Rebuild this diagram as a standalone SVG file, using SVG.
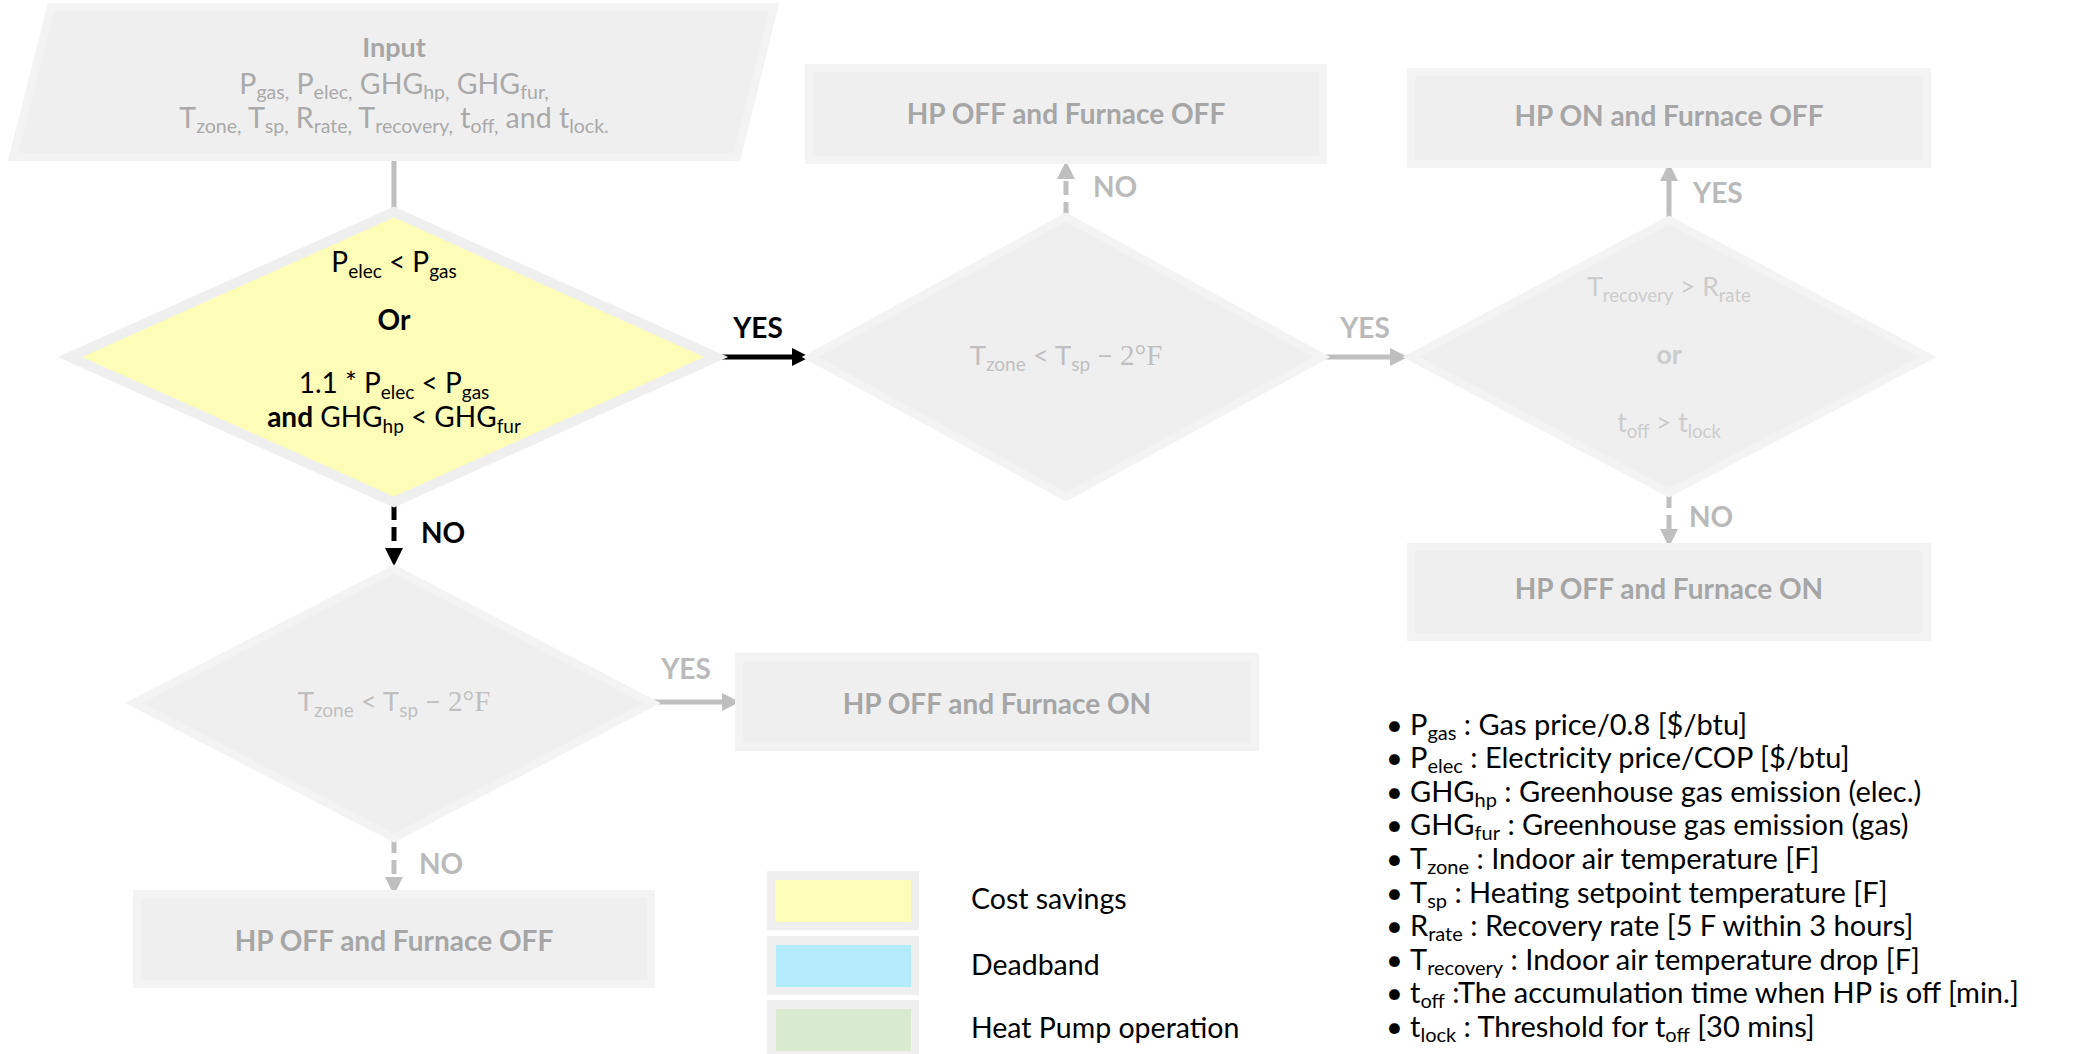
<svg xmlns="http://www.w3.org/2000/svg" width="2080" height="1054" viewBox="0 0 2080 1054">
<style>
text{font-family:Lato,"Liberation Sans",sans-serif}
.shape{fill:#efefef;stroke:#f3f3f3;stroke-width:8}
.yel{fill:#fdfdb7;stroke:#efefef;stroke-width:10}
.bt{font-weight:bold;font-size:28px;fill:#a6a6a6;text-anchor:middle}
.it{font-size:28.5px;fill:#a9a9a9;text-anchor:middle}
.dk{font-size:28px;fill:#000;text-anchor:middle}
.dg{font-size:27.5px;fill:#bfbfbf;text-anchor:middle}
.dl{font-size:26.5px;fill:#cccccc;text-anchor:middle}
.lg{font-weight:bold;font-size:28px;fill:#bababa}
.lk{font-weight:bold;font-size:28px;fill:#000}
.leg{font-size:28.5px;fill:#000}
.bl{font-size:29px;fill:#000}
.cg{stroke:#bfbfbf;stroke-width:5;fill:none}
.ck{stroke:#000;stroke-width:5;fill:none}
.dash{stroke-dasharray:14 7}
</style>
<defs>
<marker id="ag" markerUnits="userSpaceOnUse" markerWidth="18" markerHeight="18" viewBox="0 0 18 18" refX="0" refY="9" orient="auto"><path d="M0,0 L18,9 L0,18 z" fill="#bfbfbf"/></marker>
<marker id="ak" markerUnits="userSpaceOnUse" markerWidth="18" markerHeight="18" viewBox="0 0 18 18" refX="0" refY="9" orient="auto"><path d="M0,0 L18,9 L0,18 z" fill="#000"/></marker>
</defs>

<g id="connectors">
<line class="cg" x1="394" y1="157" x2="394" y2="212"/>
<line class="ck" x1="720" y1="357" x2="792" y2="357" marker-end="url(#ak)"/>
<line class="ck dash" x1="394" y1="506" x2="394" y2="548" marker-end="url(#ak)"/>
<line class="cg dash" x1="1066" y1="216" x2="1066" y2="179" marker-end="url(#ag)"/>
<line class="cg" x1="1324" y1="357" x2="1390" y2="357" marker-end="url(#ag)"/>
<line class="cg" x1="1669" y1="219" x2="1669" y2="181" marker-end="url(#ag)"/>
<line class="cg dash" x1="1669" y1="494" x2="1669" y2="529" marker-end="url(#ag)"/>
<line class="cg" x1="653" y1="702" x2="722" y2="702" marker-end="url(#ag)"/>
<line class="cg dash" x1="394" y1="839" x2="394" y2="877" marker-end="url(#ag)"/>
<text class="lk" x="758" y="338" text-anchor="middle">YES</text>
<text class="lk" x="421" y="543">NO</text>
<text class="lg" x="1093" y="197">NO</text>
<text class="lg" x="1365" y="338" text-anchor="middle">YES</text>
<text class="lg" x="1693" y="203">YES</text>
<text class="lg" x="1689" y="527">NO</text>
<text class="lg" x="686" y="679" text-anchor="middle">YES</text>
<text class="lg" x="419" y="874">NO</text>
</g>

<g id="input">
<polygon class="shape" points="51,7 774,7 737,157 13,157"/>
<text class="bt" x="394" y="57" style="font-size:27px">Input</text>
<text class="it" x="394" y="94">P<tspan font-size="19.5" dy="5">gas,</tspan><tspan dy="-5"> P</tspan><tspan font-size="19.5" dy="5">elec,</tspan><tspan dy="-5"> GHG</tspan><tspan font-size="19.5" dy="5">hp,</tspan><tspan dy="-5"> GHG</tspan><tspan font-size="19.5" dy="5">fur,</tspan></text>
<text class="it" x="394" y="128">T<tspan font-size="19.5" dy="5">zone,</tspan><tspan dy="-5"> T</tspan><tspan font-size="19.5" dy="5">sp,</tspan><tspan dy="-5"> R</tspan><tspan font-size="19.5" dy="5">rate,</tspan><tspan dy="-5"> T</tspan><tspan font-size="19.5" dy="5">recovery,</tspan><tspan dy="-5"> t</tspan><tspan font-size="19.5" dy="5">off,</tspan><tspan dy="-5"> and t</tspan><tspan font-size="19.5" dy="5">lock.</tspan></text>
</g>

<g id="decision-cost">
<polygon class="yel" points="394,212 716,357 394,502 70,357"/>
<text class="dk" x="394" y="272">P<tspan font-size="19" dy="6">elec</tspan><tspan dy="-6"> &lt; P</tspan><tspan font-size="19" dy="6">gas</tspan></text>
<text class="dk" x="394" y="330" font-weight="bold">Or</text>
<text class="dk" x="394" y="393">1.1 * P<tspan font-size="19" dy="6">elec</tspan><tspan dy="-6"> &lt; P</tspan><tspan font-size="19" dy="6">gas</tspan></text>
<text class="dk" x="394" y="427"><tspan font-weight="bold">and</tspan> GHG<tspan font-size="19" dy="6">hp</tspan><tspan dy="-6"> &lt; GHG</tspan><tspan font-size="19" dy="6">fur</tspan></text>
</g>

<g id="decision-deadband-1">
<polygon class="shape" points="1066,217 1322,357 1066,497 810,357"/>
<text class="dg" x="1066" y="365">T<tspan font-size="19" dy="6">zone</tspan><tspan dy="-6"> &lt; T</tspan><tspan font-size="19" dy="6">sp</tspan><tspan dy="-6"> − </tspan><tspan font-family="Liberation Serif,serif" font-size="29">2°F</tspan></text>
</g>

<g id="box-off-off-top">
<rect class="shape" x="809" y="68" width="514" height="92"/>
<text class="bt" x="1066" y="124">HP OFF and Furnace OFF</text>
</g>

<g id="decision-hp">
<polygon class="shape" points="1669,220 1928,357 1669,493 1411,357"/>
<text class="dl" x="1669" y="296">T<tspan font-size="18.5" dy="6">recovery</tspan><tspan dy="-6"> &gt; R</tspan><tspan font-size="18.5" dy="6">rate</tspan></text>
<text class="dl" x="1669" y="364" font-weight="bold" fill="#c4c4c4">or</text>
<text class="dl" x="1669" y="432">t<tspan font-size="18.5" dy="6">off</tspan><tspan dy="-6"> &gt; t</tspan><tspan font-size="18.5" dy="6">lock</tspan></text>
</g>

<g id="box-on-off">
<rect class="shape" x="1411" y="72" width="516" height="92"/>
<text class="bt" x="1669" y="126">HP ON and Furnace OFF</text>
</g>

<g id="box-off-on-right">
<rect class="shape" x="1411" y="547" width="516" height="90"/>
<text class="bt" x="1669" y="599">HP OFF and Furnace ON</text>
</g>

<g id="decision-deadband-2">
<polygon class="shape" points="394,569 652,703 394,838 134,703"/>
<text class="dg" x="394" y="711">T<tspan font-size="19" dy="6">zone</tspan><tspan dy="-6"> &lt; T</tspan><tspan font-size="19" dy="6">sp</tspan><tspan dy="-6"> − </tspan><tspan font-family="Liberation Serif,serif" font-size="29">2°F</tspan></text>
</g>

<g id="box-off-on-mid">
<rect class="shape" x="739" y="657" width="516" height="90"/>
<text class="bt" x="997" y="714">HP OFF and Furnace ON</text>
</g>

<g id="box-off-off-bottom">
<rect class="shape" x="137" y="894" width="514" height="90"/>
<text class="bt" x="394" y="951">HP OFF and Furnace OFF</text>
</g>

<g id="legend">
<rect x="767" y="871" width="152" height="59" fill="#efefef"/>
<rect x="775" y="880" width="136" height="42" fill="#fdfdb7"/>
<rect x="767" y="936" width="152" height="59" fill="#efefef"/>
<rect x="776" y="945" width="135" height="42" fill="#b3ebfb"/>
<rect x="767" y="1000" width="152" height="59" fill="#efefef"/>
<rect x="776" y="1009" width="135" height="42" fill="#d8ebd0"/>
<text class="leg" x="971" y="909">Cost savings</text>
<text class="leg" x="971" y="975">Deadband</text>
<text class="leg" x="971" y="1038">Heat Pump operation</text>
</g>

<g id="notes">
<g class="bl">
<text x="1386" y="735">•</text><text x="1410" y="735">P<tspan font-size="20" dy="5">gas</tspan><tspan dy="-5"> : Gas price/0.8 [$/btu]</tspan></text>
<text x="1386" y="768">•</text><text x="1410" y="768">P<tspan font-size="20" dy="5">elec</tspan><tspan dy="-5"> : Electricity price/COP [$/btu]</tspan></text>
<text x="1386" y="802">•</text><text x="1410" y="802">GHG<tspan font-size="20" dy="5">hp</tspan><tspan dy="-5"> : Greenhouse gas emission (elec.)</tspan></text>
<text x="1386" y="835">•</text><text x="1410" y="835">GHG<tspan font-size="20" dy="5">fur</tspan><tspan dy="-5"> : Greenhouse gas emission (gas)</tspan></text>
<text x="1386" y="869">•</text><text x="1410" y="869">T<tspan font-size="20" dy="5">zone</tspan><tspan dy="-5"> : Indoor air temperature [F]</tspan></text>
<text x="1386" y="903">•</text><text x="1410" y="903">T<tspan font-size="20" dy="5">sp</tspan><tspan dy="-5"> : Heating setpoint temperature [F]</tspan></text>
<text x="1386" y="936">•</text><text x="1410" y="936">R<tspan font-size="20" dy="5">rate</tspan><tspan dy="-5"> : Recovery rate [5 F within 3 hours]</tspan></text>
<text x="1386" y="970">•</text><text x="1410" y="970">T<tspan font-size="20" dy="5">recovery</tspan><tspan dy="-5"> : Indoor air temperature drop [F]</tspan></text>
<text x="1386" y="1003">•</text><text x="1410" y="1003">t<tspan font-size="20" dy="5">off</tspan><tspan dy="-5"> :The accumulation time when HP is off [min.]</tspan></text>
<text x="1386" y="1037">•</text><text x="1410" y="1037">t<tspan font-size="20" dy="5">lock</tspan><tspan dy="-5"> : Threshold for t</tspan><tspan font-size="20" dy="5">off</tspan><tspan dy="-5"> [30 mins]</tspan></text>
</g>
</g>
</svg>
